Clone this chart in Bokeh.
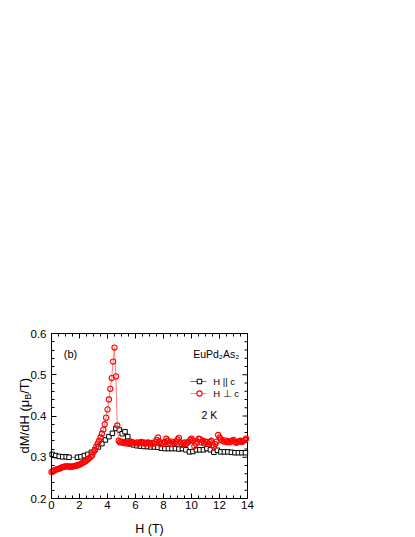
import numpy as np
from bokeh.plotting import figure
from bokeh.models import Range1d, FixedTicker, Label
from bokeh.embed import file_html
from bokeh.resources import INLINE

# ---------------- data ----------------
H_par = [0.05, 0.30, 0.55, 0.80, 1.05, 1.25, 1.85, 2.10, 2.35, 2.60, 2.85, 3.10,
         3.35, 3.60, 3.85, 4.10, 4.35, 4.60, 4.85, 5.05, 5.25, 5.45, 5.65, 5.85,
         6.10, 6.35, 6.60, 6.85, 7.10, 7.35, 7.60, 7.85, 8.10, 8.35, 8.60, 8.85,
         9.10, 9.35, 9.60, 9.85, 10.10, 10.35, 10.60, 10.85, 11.10, 11.35, 11.60,
         11.85, 12.10, 12.35, 12.60, 12.85, 13.10, 13.35, 13.60, 13.85]
dMdH_par = [0.307, 0.304, 0.302, 0.301, 0.301, 0.300, 0.300, 0.301, 0.304, 0.307,
            0.312, 0.318, 0.325, 0.333, 0.342, 0.350, 0.358, 0.370, 0.366, 0.357,
            0.362, 0.350, 0.332, 0.330, 0.328, 0.327, 0.326, 0.326, 0.325, 0.325,
            0.324, 0.322, 0.321, 0.321, 0.321, 0.321, 0.320, 0.321, 0.318, 0.313,
            0.314, 0.318, 0.318, 0.318, 0.321, 0.318, 0.312, 0.317, 0.313, 0.313,
            0.313, 0.312, 0.311, 0.311, 0.311, 0.311]

H_perp = [0.0, 0.1, 0.2, 0.3, 0.4, 0.5, 0.6, 0.7, 0.8, 0.9,
          1.0, 1.1, 1.2, 1.3, 1.4, 1.5, 1.6, 1.7, 1.8, 1.9,
          2.0, 2.1, 2.2, 2.3, 2.4, 2.5, 2.6, 2.7, 2.8, 2.9,
          3.0, 3.1, 3.2, 3.3, 3.4, 3.5, 3.6, 3.7, 3.8, 3.9,
          4.0, 4.1, 4.2, 4.3, 4.4, 4.5, 4.6, 4.7, 4.8, 4.9,
          5.0, 5.1, 5.2, 5.3, 5.4, 5.5, 5.6, 5.7, 5.8, 5.9,
          6.0, 6.1, 6.2, 6.3, 6.4, 6.5, 6.6, 6.7, 6.8, 6.9,
          7.0, 7.1, 7.2, 7.3, 7.4, 7.5, 7.6, 7.7, 7.8, 7.9,
          8.0, 8.1, 8.2, 8.3, 8.4, 8.5, 8.6, 8.7, 8.8, 8.9,
          9.0, 9.1, 9.2, 9.3, 9.4, 9.5, 9.6, 9.7, 9.8, 9.9,
          10.0, 10.1, 10.2, 10.3, 10.4, 10.5, 10.6, 10.7, 10.8, 10.9,
          11.0, 11.1, 11.2, 11.3, 11.4, 11.5, 11.6, 11.7, 11.8, 11.9,
          12.0, 12.1, 12.2, 12.3, 12.4, 12.5, 12.6, 12.7, 12.8, 12.9,
          13.0, 13.1, 13.2, 13.3, 13.4, 13.5, 13.6, 13.7, 13.8, 13.9]
dMdH_perp = [0.264, 0.266, 0.268, 0.270, 0.271, 0.272, 0.273, 0.275, 0.276, 0.277,
             0.278, 0.278, 0.278, 0.277, 0.277, 0.278, 0.278, 0.279, 0.280, 0.281,
             0.282, 0.284, 0.286, 0.288, 0.290, 0.292, 0.295, 0.298, 0.301, 0.305,
             0.312, 0.318, 0.326, 0.333, 0.340, 0.348, 0.357, 0.367, 0.380, 0.396,
             0.416, 0.440, 0.466, 0.492, 0.532, 0.566, 0.496, 0.377, 0.340, 0.336,
             0.338, 0.335, 0.337, 0.334, 0.336, 0.333, 0.337, 0.338, 0.336, 0.335,
             0.334, 0.336, 0.333, 0.335, 0.337, 0.334, 0.336, 0.333, 0.335, 0.336,
             0.334, 0.331, 0.335, 0.333, 0.336, 0.342, 0.348, 0.338, 0.332, 0.335,
             0.333, 0.337, 0.345, 0.340, 0.335, 0.332, 0.338, 0.336, 0.334, 0.338,
             0.343, 0.347, 0.336, 0.330, 0.334, 0.336, 0.332, 0.335, 0.338, 0.342,
             0.345, 0.340, 0.327, 0.333, 0.338, 0.345, 0.344, 0.336, 0.340, 0.334,
             0.338, 0.337, 0.333, 0.337, 0.340, 0.330, 0.326, 0.332, 0.338, 0.354,
             0.348, 0.343, 0.340, 0.338, 0.341, 0.337, 0.339, 0.336, 0.338, 0.340,
             0.342, 0.337, 0.335, 0.337, 0.339, 0.340, 0.337, 0.339, 0.342, 0.345]

x_ticks = [0, 2, 4, 6, 8, 10, 12, 14]
x_minor = [0.5 * i for i in range(29)]
y_ticks = [0.2, 0.3, 0.4, 0.5, 0.6]
y_tick_labels = ["0.2", "0.3", "0.4", "0.5", "0.6"]
y_minor = [round(0.2 + 0.02 * i, 2) for i in range(21)]

FONT = "Liberation Sans"
X0, X1, Y0, Y1 = 0, 14, 0.2, 0.6          # axes box
PX_X = 14.0      # pixels per tesla
PX_Y = 412.5     # pixels per unit of dM/dH
W, HGT = 260, 537
BOX_LEFT, BOX_TOP = 51, 333               # pixel position of the axes box
xr = Range1d(X0 - BOX_LEFT / PX_X, X0 + (W - BOX_LEFT) / PX_X)
yr = Range1d(Y1 - (HGT - BOX_TOP) / PX_Y, Y1 + BOX_TOP / PX_Y)

p = figure(width=W, height=HGT, output_backend="svg", toolbar_location=None,
           x_range=xr, y_range=yr, min_border=0)
p.xgrid.visible = False
p.ygrid.visible = False
p.outline_line_color = None

for ax, ticks, minor in ((p.xaxis[0], x_ticks, x_minor), (p.yaxis[0], y_ticks, y_minor)):
    ax.ticker = FixedTicker(ticks=ticks, minor_ticks=minor)
    ax.axis_line_color = "black"
    ax.major_tick_line_color = "black"
    ax.minor_tick_line_color = "black"
    ax.major_tick_in = 5
    ax.major_tick_out = 0
    ax.minor_tick_in = 3
    ax.minor_tick_out = 0
    ax.major_label_text_font = FONT
    ax.major_label_text_font_size = "11.5px"
    ax.major_label_text_color = "black"

p.xaxis[0].fixed_location = Y0
p.xaxis[0].bounds = (X0, X1)
p.xaxis[0].major_label_standoff = 2
p.yaxis[0].fixed_location = X0
p.yaxis[0].bounds = (Y0, Y1)
p.yaxis[0].major_label_standoff = 5
p.yaxis[0].major_label_overrides = {t: l for t, l in zip(y_ticks, y_tick_labels)}

# top and right edges of the box with inward mirrored ticks
ypp = 1.0 / PX_Y
xpp = 1.0 / PX_X
p.line([X0, X1], [Y1, Y1], line_color="black", line_width=1)
p.line([X1, X1], [Y0, Y1], line_color="black", line_width=1)
xt_minor = [t for t in x_minor if t not in x_ticks]
p.segment(x0=x_ticks, y0=[Y1] * len(x_ticks), x1=x_ticks,
          y1=[Y1 - 5 * ypp] * len(x_ticks), line_color="black", line_width=1)
p.segment(x0=xt_minor, y0=[Y1] * len(xt_minor), x1=xt_minor,
          y1=[Y1 - 3 * ypp] * len(xt_minor), line_color="black", line_width=1)
yt_minor = [t for t in y_minor if t not in y_ticks]
p.segment(x0=[X1] * len(y_ticks), y0=y_ticks, x1=[X1 - 5 * xpp] * len(y_ticks),
          y1=y_ticks, line_color="black", line_width=1)
p.segment(x0=[X1] * len(yt_minor), y0=yt_minor, x1=[X1 - 3 * xpp] * len(yt_minor),
          y1=yt_minor, line_color="black", line_width=1)

# data series
p.line(H_par, dMdH_par, line_color="#707070", line_width=1)
p.scatter(H_par, dMdH_par, marker="square", size=4.5, fill_color="white",
          line_color="black", line_width=1)
p.line(H_perp, dMdH_perp, line_color="#ff5a5a", line_width=0.8)
p.scatter(H_perp, dMdH_perp, marker="circle", size=5.2, fill_color=None,
          line_color="#ff0000", line_width=1.1)

# legend (drawn manually)
leg_x = [9.93, 11.07]
leg_marker_x = [10.57]
p.line(leg_x, [0.4836, 0.4836], line_color="#707070", line_width=1)
p.scatter(leg_marker_x, [0.4836], marker="square", size=4.5, fill_color="white",
          line_color="black", line_width=1)
p.line(leg_x, [0.4545, 0.4545], line_color="#ff5a5a", line_width=0.8)
p.scatter(leg_marker_x, [0.4545], marker="circle", size=5.2, fill_color="white",
          line_color="#ff0000", line_width=1.1)

def txt(x, y, s, size, align="left", angle=0.0):
    p.add_layout(Label(x=x, y=y, text=s, text_font=FONT, text_font_size=size,
                       text_color="black", text_baseline="middle",
                       text_align=align, angle=angle))

txt(11.55, 0.4836, "H || c", "9.5px")
txt(11.55, 0.4545, "H \u22a5 c", "9.5px")
txt(0.88, 0.5508, "(b)", "11px")
txt(10.12, 0.5515, "EuPd\u2082As\u2082", "10.5px")
txt(10.71, 0.4032, "2 K", "10.5px")

# axis titles
txt(7.0, Y0 - 30.5 * ypp, "H (T)", "12.5px", align="center")
ang = np.pi / 2
txt(X0 - 27.5 * xpp, Y0 + 45 * ypp, "dM/dH (\u03bc", "13px", angle=ang)
txt(X0 - 23.2 * xpp, Y0 + 98.7 * ypp, "B", "9px", angle=ang)
txt(X0 - 27.5 * xpp, Y0 + 104.7 * ypp, "/T)", "13px", angle=ang)

open("out.html", "w").write(file_html(p, INLINE))
